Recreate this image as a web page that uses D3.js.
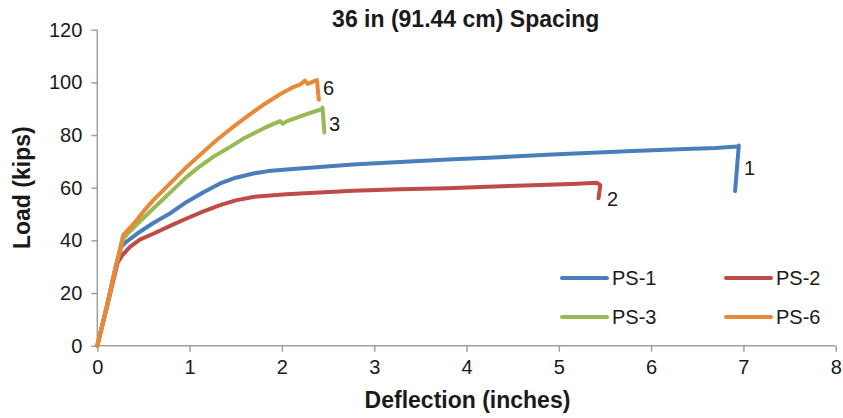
<!DOCTYPE html>
<html>
<head>
<meta charset="utf-8">
<script src="https://cdn.jsdelivr.net/npm/d3@7"></script>
<style>
  html, body { margin: 0; padding: 0; background: #fff; }
  svg { display: block; }
  text { font-family: "Liberation Sans", Arial, Helvetica, sans-serif; fill: #1a1a1a; }
</style>
</head>
<body>
<svg id="chart" width="843" height="418"></svg>
<script>
// ---- data ----
const chartTitle = "36 in (91.44 cm) Spacing";
const xLabel = "Deflection (inches)";
const yLabel = "Load (kips)";
const xTicks = [0, 1, 2, 3, 4, 5, 6, 7, 8];
const yTicks = [0, 20, 40, 60, 80, 100, 120];
const seriesNames = ["PS-1", "PS-2", "PS-3", "PS-6"];
const seriesEndLabels = ["1", "2", "3", "6"];
const seriesColors = ["#4A7EBB", "#BE4B48", "#98B954", "#E8893A"];

// PS-1 (deflection in, load kips)
const ps1Defl = [0, 0.1, 0.2, 0.26, 0.3, 0.354, 0.45, 0.607, 0.8, 0.968, 1.15, 1.33, 1.5, 1.69, 1.85, 2.05, 2.41, 2.77, 3.28, 3.8, 4.3, 4.87, 5.3, 5.8, 6.3, 6.7, 6.93, 6.95, 6.91];
const ps1Load = [0, 14.5, 30, 37.5, 39, 40.5, 43, 46.6, 50.5, 54.6, 58.3, 61.6, 63.8, 65.4, 66.3, 66.9, 67.9, 68.8, 69.8, 70.7, 71.5, 72.5, 73.2, 73.9, 74.6, 75.1, 75.6, 76.0, 58.7];
// PS-2
const ps2Defl = [0, 0.1, 0.22, 0.27, 0.354, 0.46, 0.607, 0.8, 0.968, 1.15, 1.33, 1.5, 1.69, 2.05, 2.41, 2.77, 3.28, 3.79, 4.3, 4.8, 5.2, 5.41, 5.45, 5.44, 5.43];
const ps2Load = [0, 14, 31.5, 34.3, 37.5, 40.3, 42.5, 45.7, 48.3, 51.0, 53.4, 55.2, 56.5, 57.5, 58.2, 58.8, 59.4, 59.8, 60.5, 61.0, 61.5, 61.9, 61.0, 58.5, 56.0];
// PS-3
const ps3Defl = [0, 0.1, 0.2, 0.28, 0.34, 0.4, 0.5, 0.607, 0.8, 0.968, 1.1, 1.26, 1.44, 1.6, 1.8, 1.98, 2.01, 2.05, 2.16, 2.3, 2.43, 2.44, 2.46];
const ps3Load = [0, 14.5, 30, 40.5, 43, 45, 48.5, 52.1, 58.5, 64.1, 67.8, 71.8, 75.5, 79.0, 82.5, 85.3, 84.3, 85.2, 86.6, 88.3, 89.8, 90.4, 81.0];
// PS-6
const ps6Defl = [0, 0.1, 0.2, 0.28, 0.34, 0.4, 0.5, 0.607, 0.8, 0.968, 1.13, 1.29, 1.45, 1.62, 1.8, 1.98, 2.11, 2.2, 2.25, 2.28, 2.33, 2.38, 2.39, 2.40];
const ps6Load = [0, 14.5, 30, 42, 44.3, 46.5, 51.0, 55.3, 62.0, 67.9, 73.0, 78.0, 82.5, 87.0, 91.5, 95.5, 98.0, 99.2, 100.7, 99.4, 100.2, 100.9, 97.0, 93.4];

const seriesDefl = [ps1Defl, ps2Defl, ps3Defl, ps6Defl];
const seriesLoad = [ps1Load, ps2Load, ps3Load, ps6Load];

// ---- drawing ----
const svg = d3.select("#chart");
const plot = { left: 97.3, right: 835.7, top: 29.7, bottom: 345.7 };

const x = d3.scaleLinear().domain([0, 8]).range([plot.left, plot.right]);
const y = d3.scaleLinear().domain([0, 120]).range([plot.bottom, plot.top]);

const axisColor = "#A0A0A0";

// y axis
const yAxis = svg.append("g")
  .attr("transform", `translate(${plot.left},0)`)
  .call(d3.axisLeft(y).tickValues(yTicks).tickSize(6).tickPadding(9).tickFormat(d3.format("d")));
// x axis
const xAxis = svg.append("g")
  .attr("transform", `translate(0,${plot.bottom})`)
  .call(d3.axisBottom(x).tickValues(xTicks).tickSize(6).tickPadding(8).tickFormat(d3.format("d")));

[yAxis, xAxis].forEach(g => {
  g.select(".domain").attr("stroke", axisColor).attr("stroke-width", 1.5);
  g.selectAll(".tick line").attr("stroke", axisColor).attr("stroke-width", 1.5);
  g.selectAll(".tick text")
    .style("font-family", '"Liberation Sans", Arial, sans-serif')
    .style("font-size", "20px")
    .attr("fill", "#1a1a1a");
});
yAxis.select(".domain").attr("d", `M0,${plot.top}V${plot.bottom}`);
xAxis.select(".domain").attr("d", `M${plot.left},0H${plot.right}`);

// lines
const line = d3.line().x(d => x(d[0])).y(d => y(d[1]));
[0, 1, 2, 3].forEach(i => {
  const pts = seriesDefl[i].map((d, k) => [d, seriesLoad[i][k]]);
  svg.append("path")
    .datum(pts)
    .attr("d", line)
    .attr("fill", "none")
    .attr("stroke", seriesColors[i])
    .attr("stroke-width", 4)
    .attr("stroke-linejoin", "round")
    .attr("stroke-linecap", "round");
});

// end labels
const endLabelPos = [
  { dx: 744, dy: 175 },
  { dx: 607, dy: 206 },
  { dx: 329, dy: 131 },
  { dx: 323, dy: 94.5 }
];
seriesEndLabels.forEach((t, i) => {
  svg.append("text")
    .attr("x", endLabelPos[i].dx)
    .attr("y", endLabelPos[i].dy)
    .style("font-size", "20px")
    .text(t);
});

// title
svg.append("text")
  .attr("x", 465.7).attr("y", 26.5)
  .attr("text-anchor", "middle")
  .style("font-size", "23px").style("font-weight", "bold")
  .text(chartTitle);

// axis titles
svg.append("text")
  .attr("x", 467.5).attr("y", 408)
  .attr("text-anchor", "middle")
  .style("font-size", "23px").style("font-weight", "bold")
  .text(xLabel);

svg.append("text")
  .attr("transform", `translate(30,${(plot.top + plot.bottom) / 2}) rotate(-90)`)
  .attr("text-anchor", "middle")
  .style("font-size", "23px").style("font-weight", "bold")
  .text(yLabel);

// legend
const legendPos = [
  { lx: 562, ly: 278 },
  { lx: 726, ly: 278 },
  { lx: 562, ly: 317 },
  { lx: 726, ly: 317 }
];
seriesNames.forEach((name, i) => {
  const p = legendPos[i];
  svg.append("line")
    .attr("x1", p.lx).attr("x2", p.lx + 45)
    .attr("y1", p.ly).attr("y2", p.ly)
    .attr("stroke", seriesColors[i])
    .attr("stroke-width", 4)
    .attr("stroke-linecap", "round");
  svg.append("text")
    .attr("x", p.lx + 50).attr("y", p.ly + 7.2)
    .style("font-size", "20px")
    .text(name);
});
</script>
</body>
</html>
